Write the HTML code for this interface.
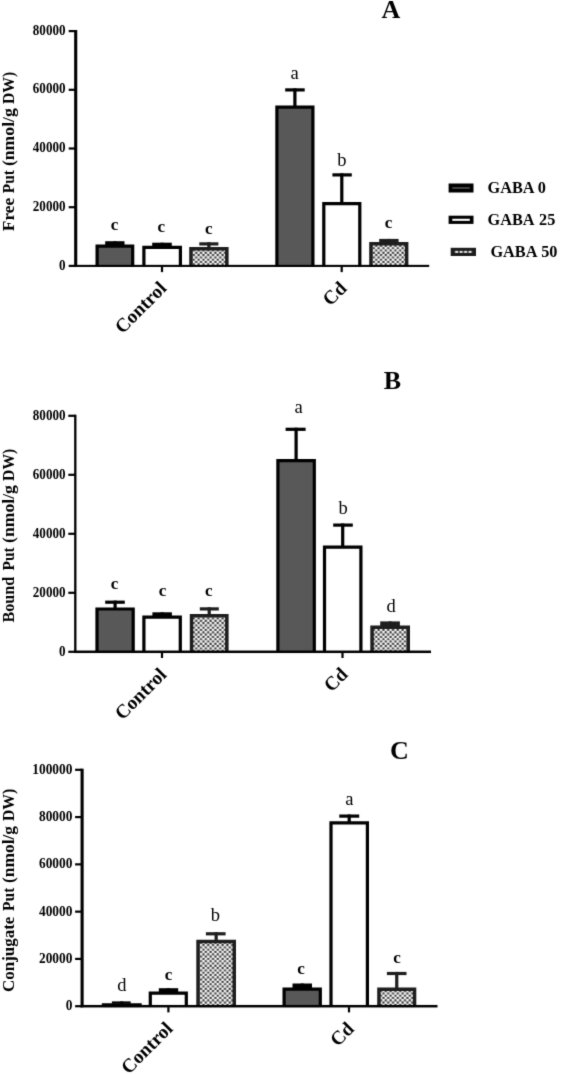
<!DOCTYPE html>
<html lang="en"><head><meta charset="utf-8"><title>Put content figure</title>
<style>
html,body{margin:0;padding:0;background:#fff;}
body{width:561px;height:1074px;overflow:hidden;}
svg{display:block;}
text{fill:#000;}
</style></head><body>
<svg width="561" height="1074" viewBox="0 0 561 1074">
<defs>
<pattern id="chk" x="0.6" y="0.9" width="24.000" height="23.000" patternUnits="userSpaceOnUse"><rect width="24.000" height="23.000" fill="#fff"/><path d="M0.12 0.12h2.16v2.06h-2.16zM0.12 4.72h2.16v2.06h-2.16zM0.12 9.32h2.16v2.06h-2.16zM0.12 13.92h2.16v2.06h-2.16zM0.12 18.52h2.16v2.06h-2.16zM2.52 2.42h2.16v2.06h-2.16zM2.52 7.02h2.16v2.06h-2.16zM2.52 11.62h2.16v2.06h-2.16zM2.52 16.22h2.16v2.06h-2.16zM2.52 20.82h2.16v2.06h-2.16zM4.92 0.12h2.16v2.06h-2.16zM4.92 4.72h2.16v2.06h-2.16zM4.92 9.32h2.16v2.06h-2.16zM4.92 13.92h2.16v2.06h-2.16zM4.92 18.52h2.16v2.06h-2.16zM7.32 2.42h2.16v2.06h-2.16zM7.32 7.02h2.16v2.06h-2.16zM7.32 11.62h2.16v2.06h-2.16zM7.32 16.22h2.16v2.06h-2.16zM7.32 20.82h2.16v2.06h-2.16zM9.72 0.12h2.16v2.06h-2.16zM9.72 4.72h2.16v2.06h-2.16zM9.72 9.32h2.16v2.06h-2.16zM9.72 13.92h2.16v2.06h-2.16zM9.72 18.52h2.16v2.06h-2.16zM12.12 2.42h2.16v2.06h-2.16zM12.12 7.02h2.16v2.06h-2.16zM12.12 11.62h2.16v2.06h-2.16zM12.12 16.22h2.16v2.06h-2.16zM12.12 20.82h2.16v2.06h-2.16zM14.52 0.12h2.16v2.06h-2.16zM14.52 4.72h2.16v2.06h-2.16zM14.52 9.32h2.16v2.06h-2.16zM14.52 13.92h2.16v2.06h-2.16zM14.52 18.52h2.16v2.06h-2.16zM16.92 2.42h2.16v2.06h-2.16zM16.92 7.02h2.16v2.06h-2.16zM16.92 11.62h2.16v2.06h-2.16zM16.92 16.22h2.16v2.06h-2.16zM16.92 20.82h2.16v2.06h-2.16zM19.32 0.12h2.16v2.06h-2.16zM19.32 4.72h2.16v2.06h-2.16zM19.32 9.32h2.16v2.06h-2.16zM19.32 13.92h2.16v2.06h-2.16zM19.32 18.52h2.16v2.06h-2.16zM21.72 2.42h2.16v2.06h-2.16zM21.72 7.02h2.16v2.06h-2.16zM21.72 11.62h2.16v2.06h-2.16zM21.72 16.22h2.16v2.06h-2.16zM21.72 20.82h2.16v2.06h-2.16z" fill="#2e2e2e"/></pattern>
<filter id="soft" x="0" y="0" width="561" height="1074" filterUnits="userSpaceOnUse" color-interpolation-filters="sRGB"><feConvolveMatrix order="3" kernelMatrix="0.01440 0.09120 0.01440 0.09120 0.57760 0.09120 0.01440 0.09120 0.01440" divisor="1" edgeMode="duplicate" preserveAlpha="false"/></filter>
</defs>
<rect width="561" height="1074" fill="#fff"/>
<g id="fig" filter="url(#soft)">

<rect x="68.70" y="264.80" width="7" height="2.2" fill="#000"/>
<text transform="translate(65.50,269.57) scale(0.915,1)" font-size="14.30" font-weight="bold" text-anchor="end" font-family="Liberation Serif, serif">0</text>
<rect x="68.70" y="206.10" width="7" height="2.2" fill="#000"/>
<text transform="translate(65.50,210.87) scale(0.915,1)" font-size="14.30" font-weight="bold" text-anchor="end" font-family="Liberation Serif, serif">20000</text>
<rect x="68.70" y="147.40" width="7" height="2.2" fill="#000"/>
<text transform="translate(65.50,152.17) scale(0.915,1)" font-size="14.30" font-weight="bold" text-anchor="end" font-family="Liberation Serif, serif">40000</text>
<rect x="68.70" y="88.70" width="7" height="2.2" fill="#000"/>
<text transform="translate(65.50,93.47) scale(0.915,1)" font-size="14.30" font-weight="bold" text-anchor="end" font-family="Liberation Serif, serif">60000</text>
<rect x="68.70" y="30.00" width="7" height="2.2" fill="#000"/>
<text transform="translate(65.50,34.77) scale(0.915,1)" font-size="14.30" font-weight="bold" text-anchor="end" font-family="Liberation Serif, serif">80000</text>
<text transform="rotate(-90)" font-size="16.7" font-weight="bold" font-family="Liberation Serif, serif"><tspan x="-231.20" y="14.20" textLength="33.3" lengthAdjust="spacingAndGlyphs">Free</tspan> <tspan x="-193.20" y="14.20" textLength="22.9" lengthAdjust="spacingAndGlyphs">Put</tspan> <tspan x="-166.10" y="14.20" textLength="57.9" lengthAdjust="spacingAndGlyphs">(nmol/g</tspan> <tspan x="-104.10" y="14.20" textLength="32.2" lengthAdjust="spacingAndGlyphs">DW)</tspan></text>
<text x="391.00" y="18.20" font-size="26" font-weight="bold" text-anchor="middle" font-family="Liberation Serif, serif">A</text>
<rect x="160.90" y="265.90" width="2.2" height="6.2" fill="#000"/>
<text transform="translate(167.60,289.30) rotate(-45)" font-size="19.3" font-weight="bold" text-anchor="end" font-family="Liberation Serif, serif">Control</text>
<rect x="340.60" y="265.90" width="2.2" height="6.2" fill="#000"/>
<text transform="translate(347.80,289.30) rotate(-45)" font-size="19.3" font-weight="bold" text-anchor="end" font-family="Liberation Serif, serif">Cd</text>
<rect x="113.30" y="241.20" width="3.2" height="4.40" fill="#000"/>
<rect x="105.20" y="241.20" width="19.30" height="3.90" fill="#000"/>
<rect x="97.10" y="246.20" width="35.60" height="20.60" fill="#585858"/>
<path d="M97.10 266.80V246.20H132.70V266.80" fill="none" stroke="#000" stroke-width="3.2" stroke-linejoin="miter"/>
<rect x="160.55" y="242.70" width="3.2" height="4.10" fill="#000"/>
<rect x="152.20" y="242.70" width="19.60" height="3.60" fill="#000"/>
<rect x="143.90" y="247.40" width="36.50" height="19.40" fill="#fff"/>
<path d="M143.90 266.80V247.40H180.40V266.80" fill="none" stroke="#000" stroke-width="3.2" stroke-linejoin="miter"/>
<rect x="207.30" y="242.30" width="3.2" height="5.70" fill="#1e1e1e"/>
<rect x="199.30" y="242.30" width="19.10" height="3.20" fill="#1e1e1e"/>
<rect x="190.95" y="248.75" width="35.90" height="18.05" fill="url(#chk)"/>
<path d="M190.95 266.80V248.75H226.85V266.80" fill="none" stroke="#1e1e1e" stroke-width="3.5" stroke-linejoin="miter"/>
<rect x="293.30" y="88.30" width="3.2" height="18.20" fill="#000"/>
<rect x="285.20" y="88.30" width="19.50" height="3.20" fill="#000"/>
<rect x="276.90" y="107.10" width="36.00" height="159.70" fill="#585858"/>
<path d="M276.90 266.80V107.10H312.90V266.80" fill="none" stroke="#000" stroke-width="3.2" stroke-linejoin="miter"/>
<rect x="340.20" y="173.30" width="3.2" height="29.70" fill="#000"/>
<rect x="332.40" y="173.30" width="19.40" height="3.20" fill="#000"/>
<rect x="323.80" y="203.60" width="36.00" height="63.20" fill="#fff"/>
<path d="M323.80 266.80V203.60H359.80V266.80" fill="none" stroke="#000" stroke-width="3.2" stroke-linejoin="miter"/>
<rect x="387.20" y="238.90" width="3.2" height="4.20" fill="#1e1e1e"/>
<rect x="379.20" y="238.90" width="19.40" height="3.70" fill="#1e1e1e"/>
<rect x="370.95" y="243.85" width="35.70" height="22.95" fill="url(#chk)"/>
<path d="M370.95 266.80V243.85H406.65V266.80" fill="none" stroke="#1e1e1e" stroke-width="3.5" stroke-linejoin="miter"/>
<rect x="74.15" y="30.00" width="3.1" height="236.95" fill="#000"/>
<rect x="74.15" y="264.85" width="355.05" height="2.1" fill="#000"/>
<text x="114.40" y="229.90" font-size="17" font-weight="bold" text-anchor="middle" font-family="Liberation Serif, serif">c</text>
<text x="161.20" y="232.00" font-size="17" font-weight="bold" text-anchor="middle" font-family="Liberation Serif, serif">c</text>
<text x="208.80" y="233.80" font-size="17" font-weight="bold" text-anchor="middle" font-family="Liberation Serif, serif">c</text>
<text x="294.60" y="79.30" font-size="18.5" text-anchor="middle" font-family="Liberation Serif, serif">a</text>
<text x="341.80" y="166.00" font-size="18.5" text-anchor="middle" font-family="Liberation Serif, serif">b</text>
<text x="388.50" y="228.20" font-size="17" font-weight="bold" text-anchor="middle" font-family="Liberation Serif, serif">c</text>
<rect x="448.60" y="183.50" width="24.90" height="9.00" fill="#000"/>
<rect x="452.30" y="187.15" width="17.50" height="1.70" fill="#4c4c4c"/>
<text x="487.50" y="192.70" font-size="16.3" font-weight="bold" word-spacing="0" font-family="Liberation Serif, serif">GABA 0</text>
<rect x="448.60" y="215.70" width="24.90" height="8.20" fill="#000"/>
<rect x="452.30" y="218.75" width="17.50" height="2.10" fill="#fff"/>
<text x="487.50" y="225.10" font-size="16.3" font-weight="bold" word-spacing="1.3" font-family="Liberation Serif, serif">GABA 25</text>
<rect x="450.70" y="247.80" width="25.30" height="8.20" fill="#1c1c1c"/>
<rect x="454.40" y="250.85" width="17.90" height="2.10" fill="#555"/>
<rect x="455.30" y="250.85" width="2.67" height="2.10" fill="#ddd"/>
<rect x="459.77" y="250.85" width="2.67" height="2.10" fill="#ddd"/>
<rect x="464.25" y="250.85" width="2.67" height="2.10" fill="#ddd"/>
<rect x="468.72" y="250.85" width="2.67" height="2.10" fill="#ddd"/>
<text x="490.40" y="256.80" font-size="16.3" font-weight="bold" word-spacing="0.6" font-family="Liberation Serif, serif">GABA 50</text>
<rect x="68.30" y="650.70" width="7" height="2.2" fill="#000"/>
<text transform="translate(65.50,656.32) scale(0.915,1)" font-size="14.30" font-weight="bold" text-anchor="end" font-family="Liberation Serif, serif">0</text>
<rect x="68.30" y="591.70" width="7" height="2.2" fill="#000"/>
<text transform="translate(65.50,597.32) scale(0.915,1)" font-size="14.30" font-weight="bold" text-anchor="end" font-family="Liberation Serif, serif">20000</text>
<rect x="68.30" y="532.70" width="7" height="2.2" fill="#000"/>
<text transform="translate(65.50,538.32) scale(0.915,1)" font-size="14.30" font-weight="bold" text-anchor="end" font-family="Liberation Serif, serif">40000</text>
<rect x="68.30" y="473.70" width="7" height="2.2" fill="#000"/>
<text transform="translate(65.50,479.32) scale(0.915,1)" font-size="14.30" font-weight="bold" text-anchor="end" font-family="Liberation Serif, serif">60000</text>
<rect x="68.30" y="414.70" width="7" height="2.2" fill="#000"/>
<text transform="translate(65.50,420.32) scale(0.915,1)" font-size="14.30" font-weight="bold" text-anchor="end" font-family="Liberation Serif, serif">80000</text>
<text transform="rotate(-90)" font-size="16.7" font-weight="bold" font-family="Liberation Serif, serif"><tspan x="-622.40" y="14.20" textLength="45.6" lengthAdjust="spacingAndGlyphs">Bound</tspan> <tspan x="-570.40" y="14.20" textLength="23.1" lengthAdjust="spacingAndGlyphs">Put</tspan> <tspan x="-543.00" y="14.20" textLength="57.9" lengthAdjust="spacingAndGlyphs">(nmol/g</tspan> <tspan x="-480.90" y="14.20" textLength="32.1" lengthAdjust="spacingAndGlyphs">DW)</tspan></text>
<text x="392.30" y="389.20" font-size="26" font-weight="bold" text-anchor="middle" font-family="Liberation Serif, serif">B</text>
<rect x="160.90" y="651.80" width="2.2" height="6.2" fill="#000"/>
<text transform="translate(167.60,675.60) rotate(-45)" font-size="19.3" font-weight="bold" text-anchor="end" font-family="Liberation Serif, serif">Control</text>
<rect x="341.40" y="651.80" width="2.2" height="6.2" fill="#000"/>
<text transform="translate(348.90,675.30) rotate(-45)" font-size="19.3" font-weight="bold" text-anchor="end" font-family="Liberation Serif, serif">Cd</text>
<rect x="113.50" y="600.60" width="3.2" height="7.80" fill="#000"/>
<rect x="105.20" y="600.60" width="19.60" height="3.20" fill="#000"/>
<rect x="97.00" y="609.00" width="36.20" height="43.70" fill="#585858"/>
<path d="M97.00 652.70V609.00H133.20V652.70" fill="none" stroke="#000" stroke-width="3.2" stroke-linejoin="miter"/>
<rect x="160.50" y="612.30" width="3.2" height="4.30" fill="#000"/>
<rect x="152.40" y="612.30" width="19.50" height="3.80" fill="#000"/>
<rect x="143.90" y="617.20" width="36.40" height="35.50" fill="#fff"/>
<path d="M143.90 652.70V617.20H180.30V652.70" fill="none" stroke="#000" stroke-width="3.2" stroke-linejoin="miter"/>
<rect x="207.60" y="607.30" width="3.2" height="7.80" fill="#1e1e1e"/>
<rect x="199.80" y="607.30" width="19.00" height="3.20" fill="#1e1e1e"/>
<rect x="191.55" y="615.85" width="35.30" height="36.85" fill="url(#chk)"/>
<path d="M191.55 652.70V615.85H226.85V652.70" fill="none" stroke="#1e1e1e" stroke-width="3.5" stroke-linejoin="miter"/>
<rect x="294.50" y="427.70" width="3.2" height="32.30" fill="#000"/>
<rect x="285.60" y="427.70" width="20.00" height="3.20" fill="#000"/>
<rect x="277.90" y="460.60" width="36.40" height="192.10" fill="#585858"/>
<path d="M277.90 652.70V460.60H314.30V652.70" fill="none" stroke="#000" stroke-width="3.2" stroke-linejoin="miter"/>
<rect x="341.10" y="523.50" width="3.2" height="23.00" fill="#000"/>
<rect x="333.20" y="523.50" width="19.60" height="3.20" fill="#000"/>
<rect x="324.50" y="547.10" width="36.40" height="105.60" fill="#fff"/>
<path d="M324.50 652.70V547.10H360.90V652.70" fill="none" stroke="#000" stroke-width="3.2" stroke-linejoin="miter"/>
<rect x="388.55" y="621.40" width="3.2" height="5.10" fill="#1e1e1e"/>
<rect x="380.20" y="621.40" width="19.70" height="4.60" fill="#1e1e1e"/>
<rect x="372.05" y="627.25" width="36.20" height="25.45" fill="url(#chk)"/>
<path d="M372.05 652.70V627.25H408.25V652.70" fill="none" stroke="#1e1e1e" stroke-width="3.5" stroke-linejoin="miter"/>
<rect x="74.15" y="414.70" width="2.3" height="238.15" fill="#000"/>
<rect x="74.15" y="650.55" width="356.85" height="2.5" fill="#000"/>
<text x="114.60" y="589.00" font-size="17" font-weight="bold" text-anchor="middle" font-family="Liberation Serif, serif">c</text>
<text x="162.50" y="595.50" font-size="17" font-weight="bold" text-anchor="middle" font-family="Liberation Serif, serif">c</text>
<text x="208.80" y="596.40" font-size="17" font-weight="bold" text-anchor="middle" font-family="Liberation Serif, serif">c</text>
<text x="298.50" y="412.90" font-size="18.5" text-anchor="middle" font-family="Liberation Serif, serif">a</text>
<text x="343.00" y="513.60" font-size="18.5" text-anchor="middle" font-family="Liberation Serif, serif">b</text>
<text x="391.20" y="612.00" font-size="18.5" text-anchor="middle" font-family="Liberation Serif, serif">d</text>
<rect x="75.10" y="1005.10" width="7" height="2.2" fill="#000"/>
<text transform="translate(72.40,1010.08) scale(0.915,1)" font-size="14.63" font-weight="bold" text-anchor="end" font-family="Liberation Serif, serif">0</text>
<rect x="75.10" y="957.82" width="7" height="2.2" fill="#000"/>
<text transform="translate(72.40,962.80) scale(0.915,1)" font-size="14.63" font-weight="bold" text-anchor="end" font-family="Liberation Serif, serif">20000</text>
<rect x="75.10" y="910.54" width="7" height="2.2" fill="#000"/>
<text transform="translate(72.40,915.52) scale(0.915,1)" font-size="14.63" font-weight="bold" text-anchor="end" font-family="Liberation Serif, serif">40000</text>
<rect x="75.10" y="863.26" width="7" height="2.2" fill="#000"/>
<text transform="translate(72.40,868.24) scale(0.915,1)" font-size="14.63" font-weight="bold" text-anchor="end" font-family="Liberation Serif, serif">60000</text>
<rect x="75.10" y="815.98" width="7" height="2.2" fill="#000"/>
<text transform="translate(72.40,820.96) scale(0.915,1)" font-size="14.63" font-weight="bold" text-anchor="end" font-family="Liberation Serif, serif">80000</text>
<rect x="75.10" y="768.70" width="7" height="2.2" fill="#000"/>
<text transform="translate(72.40,773.68) scale(0.915,1)" font-size="14.63" font-weight="bold" text-anchor="end" font-family="Liberation Serif, serif">100000</text>
<text transform="rotate(-90)" font-size="16.7" font-weight="bold" font-family="Liberation Serif, serif"><tspan x="-991.90" y="14.30" textLength="75.2" lengthAdjust="spacingAndGlyphs">Conjugate</tspan> <tspan x="-910.90" y="14.30" textLength="23.2" lengthAdjust="spacingAndGlyphs">Put</tspan> <tspan x="-883.00" y="14.30" textLength="57.0" lengthAdjust="spacingAndGlyphs">(nmol/g</tspan> <tspan x="-821.10" y="14.30" textLength="32.3" lengthAdjust="spacingAndGlyphs">DW)</tspan></text>
<text x="399.30" y="759.20" font-size="26" font-weight="bold" text-anchor="middle" font-family="Liberation Serif, serif">C</text>
<rect x="167.30" y="1006.20" width="2.2" height="6.2" fill="#000"/>
<text transform="translate(173.90,1029.70) rotate(-45)" font-size="19.3" font-weight="bold" text-anchor="end" font-family="Liberation Serif, serif">Control</text>
<rect x="347.90" y="1006.20" width="2.2" height="6.2" fill="#000"/>
<text transform="translate(355.10,1029.80) rotate(-45)" font-size="19.3" font-weight="bold" text-anchor="end" font-family="Liberation Serif, serif">Cd</text>
<rect x="120.15" y="1001.40" width="3.2" height="2.80" fill="#000"/>
<rect x="111.90" y="1001.40" width="18.80" height="2.30" fill="#000"/>
<rect x="103.40" y="1004.80" width="36.70" height="2.30" fill="#585858"/>
<path d="M103.40 1007.10V1004.80H140.10V1007.10" fill="none" stroke="#000" stroke-width="3.2" stroke-linejoin="miter"/>
<rect x="166.70" y="988.20" width="3.2" height="4.40" fill="#000"/>
<rect x="158.80" y="988.20" width="19.40" height="3.90" fill="#000"/>
<rect x="150.30" y="993.20" width="36.00" height="13.90" fill="#fff"/>
<path d="M150.30 1007.10V993.20H186.30V1007.10" fill="none" stroke="#000" stroke-width="3.2" stroke-linejoin="miter"/>
<rect x="214.55" y="932.20" width="3.2" height="8.60" fill="#1e1e1e"/>
<rect x="205.90" y="932.20" width="19.70" height="3.20" fill="#1e1e1e"/>
<rect x="198.05" y="941.55" width="36.20" height="65.55" fill="url(#chk)"/>
<path d="M198.05 1007.10V941.55H234.25V1007.10" fill="none" stroke="#1e1e1e" stroke-width="3.5" stroke-linejoin="miter"/>
<rect x="300.60" y="983.50" width="3.2" height="5.00" fill="#000"/>
<rect x="292.50" y="983.50" width="19.50" height="4.50" fill="#000"/>
<rect x="284.10" y="989.10" width="36.20" height="18.00" fill="#585858"/>
<path d="M284.10 1007.10V989.10H320.30V1007.10" fill="none" stroke="#000" stroke-width="3.2" stroke-linejoin="miter"/>
<rect x="347.60" y="814.50" width="3.2" height="7.80" fill="#000"/>
<rect x="339.30" y="814.50" width="19.90" height="3.20" fill="#000"/>
<rect x="331.00" y="822.90" width="36.40" height="184.20" fill="#fff"/>
<path d="M331.00 1007.10V822.90H367.40V1007.10" fill="none" stroke="#000" stroke-width="3.2" stroke-linejoin="miter"/>
<rect x="395.15" y="971.90" width="3.2" height="16.60" fill="#1e1e1e"/>
<rect x="386.90" y="971.90" width="19.60" height="3.20" fill="#1e1e1e"/>
<rect x="378.95" y="989.25" width="35.60" height="17.85" fill="url(#chk)"/>
<path d="M378.95 1007.10V989.25H414.55V1007.10" fill="none" stroke="#1e1e1e" stroke-width="3.5" stroke-linejoin="miter"/>
<rect x="80.55" y="768.70" width="3.1" height="238.55" fill="#000"/>
<rect x="80.55" y="1004.95" width="356.95" height="2.5" fill="#000"/>
<text x="121.80" y="990.50" font-size="18.5" text-anchor="middle" font-family="Liberation Serif, serif">d</text>
<text x="168.40" y="979.80" font-size="17" font-weight="bold" text-anchor="middle" font-family="Liberation Serif, serif">c</text>
<text x="215.40" y="920.80" font-size="18.5" text-anchor="middle" font-family="Liberation Serif, serif">b</text>
<text x="349.40" y="805.00" font-size="18.5" text-anchor="middle" font-family="Liberation Serif, serif">a</text>
<text x="301.00" y="974.40" font-size="17" font-weight="bold" text-anchor="middle" font-family="Liberation Serif, serif">c</text>
<text x="397.00" y="963.20" font-size="17" font-weight="bold" text-anchor="middle" font-family="Liberation Serif, serif">c</text>
</g>
<g id="patterns"></g>
</svg></body></html>
